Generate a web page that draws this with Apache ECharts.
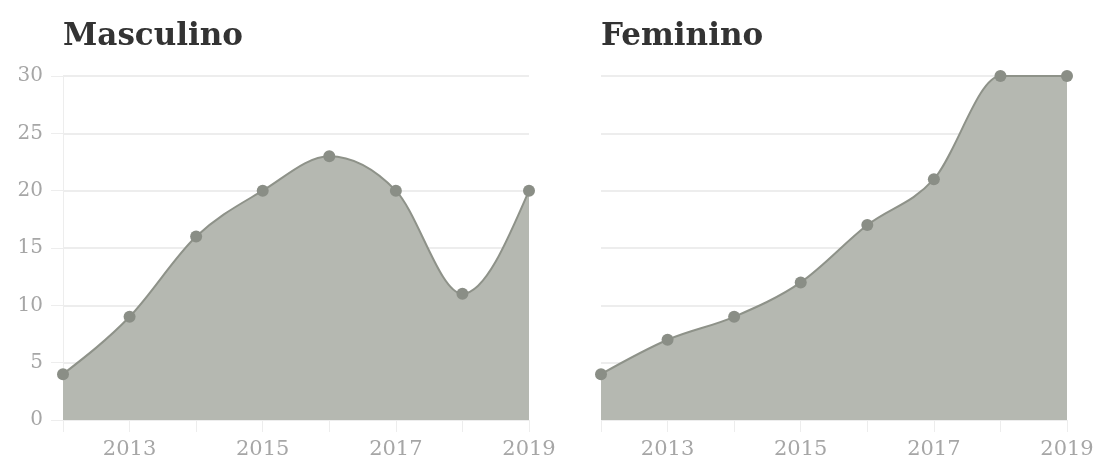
<!DOCTYPE html>
<html>
<head>
<meta charset="utf-8">
<script src="https://cdn.jsdelivr.net/npm/echarts@6/dist/echarts.min.js"></script>
<style>
  html, body { margin: 0; padding: 0; background: #fff; }
  #chart { width: 1098px; height: 464px; }
</style>
</head>
<body>
<div id="chart"></div>
<script>
// Years on the x axis
const years = ['2012', '2013', '2014', '2015', '2016', '2017', '2018', '2019'];
// Values per year
const masculino = [4, 9, 16, 20, 23, 20, 11, 20];
const feminino = [4, 7, 9, 12, 17, 21, 30, 30];
// Panel titles
const titles = ['Masculino', 'Feminino'];

const serif = '"DejaVu Serif", "Liberation Serif", serif';
const areaColor = '#b5b8b1';
const lineColor = '#8e9289';
const dotColor = '#8a8e86';
const gridColor = '#ededed';
const labelColor = '#a6a6a6';

function sign(v) { return v < 0 ? -1 : 1; }

// Monotone-in-x cubic path through pixel points (Fritsch–Carlson tangents)
function monotonePath(pts) {
  const n = pts.length;
  const t = new Array(n);
  const h = [], s = [];
  for (let i = 0; i < n - 1; i++) {
    h[i] = pts[i + 1][0] - pts[i][0];
    s[i] = (pts[i + 1][1] - pts[i][1]) / h[i];
  }
  for (let i = 1; i < n - 1; i++) {
    const p = (s[i - 1] * h[i] + s[i] * h[i - 1]) / (h[i - 1] + h[i]);
    t[i] = (sign(s[i - 1]) + sign(s[i])) *
      Math.min(Math.abs(s[i - 1]), Math.abs(s[i]), 0.5 * Math.abs(p)) || 0;
  }
  t[0] = (3 * s[0] - t[1]) / 2;
  t[n - 1] = (3 * s[n - 2] - t[n - 2]) / 2;
  const segs = [];
  for (let i = 0; i < n - 1; i++) {
    const dx = h[i] / 3;
    segs.push([
      pts[i][0] + dx, pts[i][1] + dx * t[i],
      pts[i + 1][0] - dx, pts[i + 1][1] - dx * t[i + 1],
      pts[i + 1][0], pts[i + 1][1]
    ]);
  }
  return segs;
}

function curveSeries(idx, data) {
  return {
    type: 'custom',
    xAxisIndex: idx, yAxisIndex: idx,
    data: [[0, 0]],
    silent: true,
    z: 1,
    renderItem: function (params, api) {
      const pts = data.map(function (v, i) { return api.coord([i, v]); });
      const base = api.coord([0, 0])[1];
      const segs = monotonePath(pts);
      let line = 'M' + pts[0][0] + ' ' + pts[0][1];
      segs.forEach(function (c) { line += ' C' + c.join(' '); });
      const last = pts[pts.length - 1];
      const area = line + ' L' + last[0] + ' ' + base + ' L' + pts[0][0] + ' ' + base + ' Z';
      return {
        type: 'group',
        children: [
          { type: 'path', shape: { pathData: area }, style: { fill: areaColor, stroke: null } },
          { type: 'path', shape: { pathData: line }, style: { fill: null, stroke: lineColor, lineWidth: 2 } }
        ]
      };
    }
  };
}

function dotSeries(idx, data) {
  return {
    type: 'line',
    xAxisIndex: idx, yAxisIndex: idx,
    data: data,
    symbol: 'circle',
    symbolSize: 12,
    itemStyle: { color: dotColor },
    lineStyle: { width: 0, opacity: 0 },
    silent: true,
    z: 3
  };
}

function xAxisFor(gridIndex) {
  return {
    type: 'category',
    gridIndex: gridIndex,
    data: years,
    boundaryGap: false,
    axisLine: { show: false },
    axisTick: {
      show: true, length: 12, interval: 0,
      lineStyle: { color: gridColor, width: 1 }
    },
    axisLabel: {
      interval: function (i) { return i % 2 === 1; },
      color: labelColor, fontFamily: serif, fontSize: 21, margin: 19
    },
    splitLine: { show: false }
  };
}

function yAxisFor(gridIndex, withLabels) {
  return {
    type: 'value',
    gridIndex: gridIndex,
    min: 0, max: 30, interval: 5,
    axisLine: { show: withLabels, lineStyle: { color: gridColor, width: 1 } },
    axisTick: { show: withLabels, length: 12, lineStyle: { color: gridColor, width: 1 } },
    axisLabel: {
      show: withLabels, color: labelColor, fontFamily: serif, fontSize: 20, margin: 20
    },
    splitLine: { show: true, lineStyle: { color: gridColor, width: 2 } }
  };
}

const chart = echarts.init(document.getElementById('chart'), null, { renderer: 'canvas' });
chart.setOption({
  animation: false,
  backgroundColor: '#ffffff',
  title: [
    { text: titles[0], left: 58, top: 16,
      textStyle: { fontFamily: serif, fontWeight: 'bold', fontSize: 31, color: '#333333' } },
    { text: titles[1], left: 596, top: 16,
      textStyle: { fontFamily: serif, fontWeight: 'bold', fontSize: 31, color: '#333333' } }
  ],
  grid: [
    { left: 63, right: 569, top: 76, bottom: 44, containLabel: false },
    { left: 601, right: 31, top: 76, bottom: 44, containLabel: false }
  ],
  xAxis: [xAxisFor(0), xAxisFor(1)],
  yAxis: [yAxisFor(0, true), yAxisFor(1, false)],
  series: [
    curveSeries(0, masculino), curveSeries(1, feminino),
    dotSeries(0, masculino), dotSeries(1, feminino)
  ]
});
</script>
</body>
</html>
